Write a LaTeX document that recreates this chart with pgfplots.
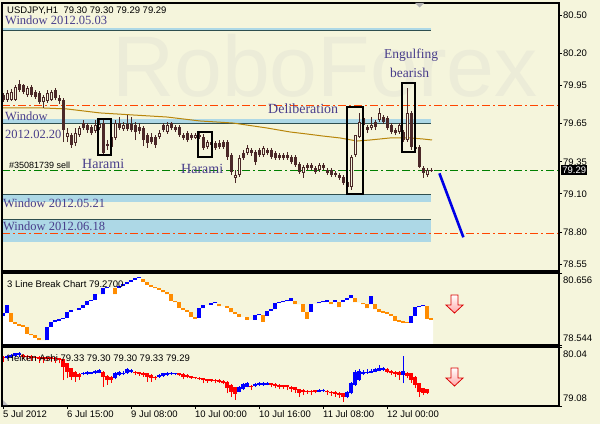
\documentclass[border=0pt]{standalone}
\usepackage{pgfplots}
\pgfplotsset{compat=1.18}
\usepackage{pgfplotstable}
\usepackage{fontspec}
\setmainfont{Liberation Sans}
\newfontfamily\serif{Liberation Serif}
\definecolor{bg}{RGB}{245,245,220}
\definecolor{candle}{RGB}{75,40,40}
\definecolor{band}{RGB}{173,216,230}
\definecolor{bandline}{RGB}{47,79,79}
\definecolor{lvlgreen}{RGB}{0,128,0}
\definecolor{ma}{RGB}{184,134,11}
\definecolor{lbl}{RGB}{72,61,139}
\definecolor{lbo}{RGB}{255,140,0}
\definecolor{lbb}{RGB}{0,0,255}
\definecolor{hared}{RGB}{255,0,0}
\definecolor{wm}{RGB}{236,236,216}

\pgfplotstableread{
x o h l c
0 79.874 79.889 79.819 79.834
1 79.834 79.913 79.819 79.889
2 79.834 79.921 79.827 79.897
3 79.834 79.952 79.827 79.936
4 79.960 79.991 79.897 79.913
5 79.952 79.960 79.881 79.897
6 79.874 79.944 79.858 79.928
7 79.936 79.952 79.858 79.874
8 79.897 79.913 79.842 79.858
9 79.889 79.905 79.803 79.819
10 79.819 79.874 79.772 79.858
11 79.827 79.913 79.811 79.889
12 79.834 79.913 79.827 79.897
13 79.913 79.928 79.834 79.850
14 79.850 79.874 79.803 79.827
15 79.834 79.850 79.505 79.599
16 79.545 79.615 79.505 79.576
17 79.560 79.576 79.459 79.482
18 79.498 79.615 79.474 79.576
19 79.560 79.631 79.545 79.615
20 79.654 79.678 79.599 79.615
21 79.639 79.654 79.576 79.599
22 79.623 79.639 79.560 79.576
23 79.592 79.678 79.576 79.639
24 79.615 79.693 79.599 79.646
25 79.654 79.678 79.404 79.419
26 79.474 79.521 79.443 79.490
27 79.466 79.545 79.459 79.545
28 79.537 79.678 79.521 79.654
29 79.654 79.701 79.599 79.615
30 79.607 79.662 79.592 79.639
31 79.646 79.717 79.592 79.607
32 79.646 79.701 79.584 79.599
33 79.639 79.662 79.521 79.584
34 79.623 79.654 79.568 79.592
35 79.615 79.631 79.474 79.521
36 79.560 79.576 79.459 79.498
37 79.545 79.576 79.490 79.505
38 79.545 79.560 79.459 79.482
39 79.545 79.599 79.529 79.576
40 79.639 79.654 79.584 79.599
41 79.584 79.662 79.568 79.639
42 79.654 79.662 79.599 79.615
43 79.623 79.639 79.584 79.599
44 79.623 79.639 79.545 79.560
45 79.560 79.576 79.521 79.537
46 79.576 79.592 79.505 79.521
47 79.560 79.576 79.521 79.537
48 79.537 79.576 79.529 79.560
49 79.560 79.584 79.529 79.545
50 79.545 79.568 79.443 79.459
51 79.466 79.521 79.451 79.505
52 79.505 79.521 79.474 79.482
53 79.498 79.513 79.443 79.459
54 79.498 79.521 79.451 79.466
55 79.505 79.521 79.451 79.466
56 79.505 79.521 79.365 79.388
57 79.404 79.419 79.247 79.271
58 79.224 79.286 79.184 79.247
59 79.247 79.404 79.231 79.380
60 79.419 79.443 79.365 79.380
61 79.419 79.482 79.404 79.459
62 79.443 79.459 79.396 79.419
63 79.427 79.443 79.325 79.349
64 79.443 79.459 79.388 79.404
65 79.404 79.474 79.388 79.459
66 79.443 79.459 79.404 79.419
67 79.443 79.459 79.372 79.388
68 79.419 79.435 79.365 79.380
69 79.404 79.419 79.365 79.380
70 79.404 79.419 79.365 79.380
71 79.404 79.427 79.365 79.380
72 79.388 79.404 79.333 79.349
73 79.388 79.404 79.310 79.325
74 79.333 79.349 79.255 79.271
75 79.263 79.325 79.224 79.310
76 79.325 79.341 79.286 79.302
77 79.325 79.341 79.286 79.302
78 79.302 79.318 79.255 79.271
79 79.286 79.341 79.271 79.325
80 79.325 79.341 79.286 79.302
81 79.286 79.302 79.247 79.263
82 79.286 79.302 79.231 79.247
83 79.263 79.278 79.231 79.247
84 79.247 79.263 79.208 79.224
85 79.231 79.247 79.169 79.184
86 79.192 79.208 79.130 79.153
87 79.153 79.404 79.130 79.388
88 79.404 79.560 79.388 79.560
89 79.545 79.733 79.537 79.662
90 79.693 79.717 79.623 79.639
91 79.623 79.639 79.576 79.599
92 79.615 79.701 79.599 79.639
93 79.662 79.678 79.599 79.623
94 79.678 79.772 79.662 79.733
95 79.701 79.717 79.646 79.662
96 79.693 79.709 79.599 79.615
97 79.639 79.654 79.568 79.584
98 79.599 79.615 79.560 79.576
99 79.584 79.654 79.568 79.639
100 79.584 79.599 79.505 79.521
101 79.521 79.928 79.505 79.733
102 79.733 79.748 79.443 79.466
103 79.466 79.482 79.435 79.451
104 79.466 79.482 79.302 79.310
105 79.302 79.318 79.224 79.263
106 79.247 79.302 79.231 79.286
107 79.286 79.302 79.271 79.278
}\candles

\pgfplotstableread{
x lo hi k
0 79.390 79.469 1
1 79.469 79.715 1
2 79.223 79.469 0
3 79.174 79.223 0
4 79.105 79.174 0
5 79.075 79.105 0
6 78.878 79.075 0
7 78.829 78.878 0
8 78.750 78.829 0
9 78.681 78.750 0
10 78.681 78.681 -1
11 78.681 79.075 1
12 79.075 79.223 1
13 79.223 79.243 1
14 79.243 79.302 1
15 79.302 79.341 1
16 79.341 79.518 1
17 79.518 79.568 1
18 79.568 79.568 -1
19 79.568 79.637 1
20 79.637 79.715 1
21 79.715 79.833 1
22 79.833 79.863 1
23 79.863 80.030 1
24 80.030 80.030 -1
25 80.030 80.208 1
26 80.208 80.227 1
27 80.227 80.227 -1
28 80.030 80.227 0
29 80.227 80.286 1
30 80.286 80.326 1
31 80.326 80.405 1
32 80.405 80.454 1
33 80.454 80.503 1
34 80.503 80.533 1
35 80.405 80.483 0
36 80.306 80.405 0
37 80.257 80.306 0
38 80.208 80.257 0
39 80.158 80.208 0
40 80.089 80.158 0
41 80.030 80.089 0
42 79.833 80.030 0
43 79.794 79.833 0
44 79.637 79.794 0
45 79.568 79.637 0
46 79.518 79.568 0
47 79.371 79.518 0
48 79.321 79.371 0
49 79.341 79.617 1
50 79.617 79.715 1
51 79.715 79.715 -1
52 79.715 79.765 1
53 79.765 79.794 1
54 79.676 79.755 0
55 79.676 79.676 -1
56 79.637 79.676 0
57 79.499 79.637 0
58 79.449 79.499 0
59 79.371 79.459 0
60 79.371 79.371 -1
61 79.292 79.371 0
62 79.292 79.292 -1
63 79.292 79.420 1
64 79.410 79.440 1
65 79.223 79.410 0
66 79.400 79.548 1
67 79.548 79.597 1
68 79.587 79.765 1
69 79.765 79.794 1
70 79.794 79.824 1
71 79.824 79.843 1
72 79.843 79.912 1
73 79.735 79.843 0
74 79.735 79.735 -1
75 79.518 79.735 0
76 79.321 79.518 0
77 79.518 79.755 1
78 79.755 79.755 -1
79 79.765 79.794 1
80 79.794 79.814 1
81 79.814 79.843 1
82 79.735 79.814 0
83 79.814 79.843 1
84 79.646 79.814 0
85 79.814 79.863 1
86 79.863 79.912 1
87 79.912 80.021 1
88 79.794 79.912 0
89 79.794 79.794 -1
90 79.735 79.784 0
91 79.617 79.735 0
92 79.735 79.991 1
93 79.587 79.735 0
94 79.518 79.587 0
95 79.489 79.518 0
96 79.459 79.489 0
97 79.390 79.459 0
98 79.253 79.390 0
99 79.223 79.253 0
100 79.203 79.223 0
101 79.184 79.203 0
102 79.193 79.400 1
103 79.400 79.646 1
104 79.646 79.686 1
105 79.676 79.725 1
106 79.321 79.676 0
107 79.292 79.321 0
}\lbreak

\pgfplotstableread{
x bt bb h l k
0 79.883 79.856 79.894 79.801 0
1 79.894 79.856 79.910 79.839 1
2 79.910 79.883 79.926 79.861 1
3 79.937 79.894 79.948 79.872 1
4 79.948 79.910 79.964 79.883 1
5 79.910 79.883 79.926 79.839 0
6 79.894 79.872 79.904 79.828 0
7 79.894 79.866 79.904 79.818 0
8 79.883 79.856 79.894 79.812 0
9 79.883 79.850 79.894 79.785 0
10 79.872 79.839 79.883 79.774 0
11 79.872 79.850 79.883 79.818 0
12 79.872 79.850 79.883 79.801 0
13 79.866 79.839 79.877 79.785 0
14 79.856 79.828 79.866 79.774 0
15 79.839 79.720 79.850 79.503 0
16 79.774 79.639 79.785 79.530 0
17 79.693 79.557 79.704 79.503 0
18 79.639 79.546 79.649 79.476 0
19 79.601 79.557 79.612 79.503 0
20 79.622 79.595 79.639 79.584 1
21 79.628 79.601 79.644 79.590 1
22 79.622 79.606 79.639 79.595 1
23 79.644 79.612 79.666 79.601 1
24 79.666 79.622 79.682 79.612 1
25 79.639 79.557 79.649 79.395 0
26 79.568 79.503 79.579 79.422 0
27 79.557 79.503 79.568 79.460 0
28 79.622 79.530 79.639 79.514 1
29 79.639 79.584 79.655 79.574 1
30 79.622 79.595 79.644 79.584 1
31 79.677 79.612 79.704 79.601 1
32 79.666 79.628 79.682 79.617 1
33 79.639 79.612 79.649 79.584 0
34 79.628 79.601 79.639 79.574 0
35 79.622 79.584 79.633 79.557 0
36 79.612 79.557 79.622 79.476 0
37 79.584 79.530 79.595 79.476 0
38 79.557 79.530 79.568 79.503 0
39 79.584 79.546 79.601 79.536 1
40 79.612 79.568 79.622 79.557 1
41 79.622 79.584 79.639 79.574 1
42 79.622 79.595 79.639 79.584 1
43 79.612 79.595 79.622 79.584 1
44 79.612 79.584 79.622 79.568 0
45 79.601 79.557 79.612 79.514 0
46 79.584 79.546 79.595 79.530 0
47 79.557 79.541 79.568 79.525 0
48 79.546 79.530 79.557 79.514 0
49 79.541 79.519 79.552 79.503 0
50 79.530 79.503 79.541 79.449 0
51 79.514 79.487 79.525 79.460 0
52 79.514 79.492 79.525 79.476 0
53 79.503 79.487 79.514 79.449 0
54 79.503 79.476 79.514 79.460 0
55 79.492 79.449 79.503 79.432 0
56 79.476 79.367 79.487 79.286 0
57 79.422 79.313 79.432 79.232 0
58 79.384 79.275 79.395 79.178 0
59 79.395 79.313 79.405 79.302 1
60 79.432 79.351 79.449 79.340 1
61 79.449 79.395 79.465 79.384 1
62 79.405 79.384 79.416 79.340 0
63 79.438 79.405 79.460 79.395 1
64 79.449 79.416 79.465 79.405 1
65 79.449 79.422 79.465 79.411 1
66 79.449 79.427 79.476 79.416 1
67 79.449 79.422 79.460 79.384 0
68 79.438 79.405 79.449 79.367 0
69 79.422 79.395 79.432 79.351 0
70 79.416 79.395 79.427 79.357 0
71 79.416 79.389 79.427 79.340 0
72 79.395 79.362 79.405 79.313 0
73 79.384 79.340 79.395 79.297 0
74 79.351 79.297 79.362 79.232 0
75 79.340 79.308 79.351 79.259 0
76 79.329 79.308 79.340 79.275 0
77 79.329 79.302 79.340 79.259 0
78 79.329 79.313 79.340 79.286 0
79 79.340 79.313 79.357 79.302 1
80 79.340 79.319 79.357 79.308 1
81 79.324 79.302 79.335 79.259 0
82 79.313 79.286 79.324 79.243 0
83 79.308 79.275 79.319 79.232 0
84 79.297 79.259 79.308 79.216 0
85 79.286 79.232 79.297 79.151 0
86 79.313 79.232 79.329 79.205 1
87 79.449 79.286 79.465 79.270 1
88 79.639 79.422 79.666 79.405 1
89 79.655 79.503 79.682 79.487 1
90 79.639 79.601 79.666 79.584 1
91 79.639 79.612 79.677 79.601 1
92 79.655 79.622 79.677 79.612 1
93 79.677 79.639 79.704 79.628 1
94 79.693 79.655 79.747 79.644 1
95 79.693 79.666 79.720 79.655 1
96 79.677 79.639 79.693 79.612 0
97 79.655 79.612 79.666 79.584 0
98 79.639 79.595 79.649 79.557 0
99 79.639 79.584 79.649 79.503 0
100 79.655 79.584 79.894 79.449 1
101 79.622 79.568 79.633 79.530 0
102 79.612 79.503 79.622 79.460 0
103 79.557 79.422 79.568 79.367 0
104 79.449 79.313 79.460 79.232 0
105 79.367 79.297 79.378 79.259 0
106 79.351 79.297 79.362 79.275 0
}\heiken

\pgfplotsset{
  panel/.style={
    scale only axis, width=557pt,
    xmin=-0.25, xmax=139,
    axis on top,
    axis line style={black, line width=1.3pt},
    xtick=\empty,
    ytick pos=right, yticklabel pos=right,
    tick align=outside,
    major tick length=3pt,
    tick style={black, line width=0.8pt},
    yticklabel style={font=\fontsize{9.5}{11}\selectfont, inner sep=0pt, xshift=1pt},
    clip mode=individual,
  },
}

\begin{document}
\begin{tikzpicture}
\useasboundingbox (0pt,0pt) rectangle (600pt,424pt);
\fill[bg] (0pt,0pt) rectangle (600pt,424pt);
\node[anchor=base west, inner sep=0pt, text=wm, font=\fontsize{86}{86}\selectfont] at (112pt,327pt) {RoboForex};

% ---------------- main panel ----------------
\begin{axis}[panel, at={(2pt,153pt)}, anchor=south west, height=268pt,
  ymin=78.495, ymax=80.594,
  ytick={80.50,80.20,79.95,79.65,79.35,79.10,78.80,78.55},
  yticklabels={80.50,80.20,79.95,79.65,79.35,79.10,78.80,78.55}]
\addplot[fill=band, draw=none] coordinates {(-0.25,80.383) (107,80.383) (107,80.397) (-0.25,80.397)} -- cycle;
\addplot[fill=band, draw=none] coordinates {(-0.25,79.655) (107,79.655) (107,79.685) (-0.25,79.685)} -- cycle;
\addplot[fill=band, draw=none] coordinates {(-0.25,79.038) (107,79.038) (107,79.096) (-0.25,79.096)} -- cycle;
\addplot[fill=band, draw=none] coordinates {(-0.25,78.725) (107,78.725) (107,78.895) (-0.25,78.895)} -- cycle;
\addplot[color=lvlgreen, line width=1pt, dash pattern=on 8pt off 3pt on 2pt off 3pt] coordinates {(-0.25,79.286) (139,79.286)};
\addplot[color={rgb,255:red,255;green,69;blue,0}, line width=1.3pt, dash pattern=on 8pt off 3pt on 2pt off 3pt] coordinates {(-0.25,79.79) (139,79.79)};
\addplot[color={rgb,255:red,255;green,69;blue,0}, line width=1.3pt, dash pattern=on 8pt off 3pt on 2pt off 3pt] coordinates {(-0.25,78.79) (139,78.79)};
\addplot[color=bandline, line width=1pt] coordinates {(-0.25,80.381) (107,80.381)};
\addplot[color=bandline, line width=1pt] coordinates {(-0.25,79.654) (107,79.654)};
\addplot[color=bandline, line width=1pt] coordinates {(-0.25,79.096) (107,79.096)};
\addplot[color=bandline, line width=1pt] coordinates {(-0.25,78.895) (107,78.895)};
\addplot[color=ma, line width=1pt] coordinates {(0,79.772) (10,79.772) (16,79.764) (24.25,79.733) (32.5,79.717) (41,79.701) (49.25,79.670) (57.5,79.654) (66,79.615) (71.75,79.584) (76,79.568) (80,79.552) (84.25,79.537) (88.5,79.513) (91.75,79.521) (96.75,79.537) (101.75,79.537) (105,79.529) (107.25,79.521)};
% candles: wicks, bodies, hollow insides of rising candles
\addplot[color=candle, line width=1pt, quiver={u=0, v={\thisrow{h}-\thisrow{l}}}] table[x=x, y=l] {\candles};
\addplot[color=candle, line width=3pt, quiver={u=0, v={max(abs(\thisrow{c}-\thisrow{o}),0.006)}}] table[x=x, y expr={min(\thisrow{o},\thisrow{c})}] {\candles};
\addplot[color=bg, line width=1pt, restrict expr to domain={\thisrow{c}-\thisrow{o}}{0.02:10}, quiver={u=0, v={\thisrow{c}-\thisrow{o}-0.014}}] table[x=x, y expr={\thisrow{o}+0.007}] {\candles};
\draw[black, line width=1.8pt] (axis cs:23.8,79.683) rectangle (axis cs:27,79.404);
\draw[black, line width=1.8pt] (axis cs:48.8,79.581) rectangle (axis cs:52.2,79.386);
\draw[black, line width=1.8pt] (axis cs:85.9,79.782) rectangle (axis cs:89.9,79.098);
\draw[black, line width=1.8pt] (axis cs:99.8,79.965) rectangle (axis cs:103,79.425);
\addplot[color=lbb!90!black, line width=2.6pt] coordinates {(109.1,79.260) (115.1,78.759)};
\end{axis}

% ---------------- 3 line break ----------------
\begin{axis}[panel, at={(2pt,79pt)}, anchor=south west, height=72pt,
  ymin=78.544, ymax=80.656, ytick={80.656,78.544}, yticklabels={}]
\addplot[ybar, bar width=1, fill=white, draw=none] table[x=x, y=lo] {\lbreak};
\addplot[color=lbb, line width=3.6pt, restrict expr to domain={\thisrow{k}}{0.5:1.5}, quiver={u=0, v={max(\thisrow{hi}-\thisrow{lo},0.045)}}] table[x=x, y=lo] {\lbreak};
\addplot[color=lbo, line width=3.6pt, restrict expr to domain={\thisrow{k}}{-0.5:0.5}, quiver={u=0, v={max(\thisrow{hi}-\thisrow{lo},0.045)}}] table[x=x, y=lo] {\lbreak};
\node[anchor=north west, inner sep=0pt, font=\fontsize{9.5}{11}\selectfont] at ([xshift=4pt,yshift=-4pt]rel axis cs:1,1) {80.656};
\node[anchor=south west, inner sep=0pt, font=\fontsize{9.5}{11}\selectfont] at ([xshift=4pt,yshift=3pt]rel axis cs:1,0) {78.544};
\end{axis}

% ---------------- Heiken Ashi ----------------
\begin{axis}[panel, at={(2pt,18pt)}, anchor=south west, height=59pt,
  ymin=79.08, ymax=80.04, ytick={80.04,79.08}, yticklabels={},
  xtick={0,16,32,48,64,80,96},
  xticklabels={5 Jul 2012,6 Jul 15:00,9 Jul 08:00,10 Jul 00:00,10 Jul 16:00,11 Jul 08:00,12 Jul 00:00},
  xtick pos=bottom,
  xticklabel style={anchor=north west, inner sep=0pt, font=\fontsize{9.5}{11}\selectfont, yshift=-1pt}]
\addplot[color=lbb, line width=1pt, restrict expr to domain={\thisrow{k}}{0.5:1.5}, quiver={u=0, v={\thisrow{h}-\thisrow{l}}}] table[x=x, y=l] {\heiken};
\addplot[color=hared, line width=1pt, restrict expr to domain={\thisrow{k}}{-0.5:0.5}, quiver={u=0, v={\thisrow{h}-\thisrow{l}}}] table[x=x, y=l] {\heiken};
\addplot[color=lbb, line width=3.2pt, restrict expr to domain={\thisrow{k}}{0.5:1.5}, quiver={u=0, v={max(\thisrow{bt}-\thisrow{bb},0.02)}}] table[x=x, y=bb] {\heiken};
\addplot[color=hared, line width=3.2pt, restrict expr to domain={\thisrow{k}}{-0.5:0.5}, quiver={u=0, v={max(\thisrow{bt}-\thisrow{bb},0.02)}}] table[x=x, y=bb] {\heiken};
\node[anchor=north west, inner sep=0pt, font=\fontsize{9.5}{11}\selectfont] at ([xshift=4pt,yshift=-4pt]rel axis cs:1,1) {80.04};
\node[anchor=south west, inner sep=0pt, font=\fontsize{9.5}{11}\selectfont] at ([xshift=4pt,yshift=4pt]rel axis cs:1,0) {79.08};
\end{axis}

% ---------------- annotations ----------------
\begin{scope}[x=1pt, y=1pt, every node/.style={inner sep=0pt, anchor=base west}]
\node[font=\fontsize{9.5}{11}\selectfont] at (7,410) {USDJPY,H1\ \ 79.30 79.30 79.29 79.29};
\node[text=lbl, font=\serif\fontsize{12.5}{13}\selectfont] at (5,399) {Window 2012.05.03};
\node[text=lbl, font=\serif\fontsize{12.5}{13}\selectfont] at (5,303) {Window};
\node[text=lbl, font=\serif\fontsize{12.5}{13}\selectfont] at (5,286) {2012.02.20};
\node[font=\fontsize{9}{10}\selectfont] at (9,256) {\#35081739 sell};
\node[text=lbl, font=\serif\fontsize{14}{15}\selectfont] at (82,256) {Harami};
\node[text=lbl, font=\serif\fontsize{14}{15}\selectfont] at (181,251) {Harami};
\node[text=lbl, font=\serif\fontsize{14}{15}\selectfont] at (268,310) {Deliberation};
\node[text=lbl, font=\serif\fontsize{13.5}{15}\selectfont] at (384,365) {Engulfing};
\node[text=lbl, font=\serif\fontsize{13.5}{15}\selectfont] at (390,346) {bearish};
\node[text=lbl, font=\serif\fontsize{12.5}{13}\selectfont] at (3,217) {Window 2012.05.21};
\node[text=lbl, font=\serif\fontsize{12.5}{13}\selectfont] at (3,194) {Window 2012.06.18};
\node[font=\fontsize{9.5}{11}\selectfont] at (7,137) {3 Line Break Chart 79.2700};
\node[font=\fontsize{9.5}{11}\selectfont] at (7,63) {Heiken Ashi 79.33 79.30 79.30 79.33 79.29};
\node[fill=black, text=white, anchor=west, inner sep=1.2pt, font=\fontsize{9.5}{11}\selectfont] at (561,254) {79.29};
\draw[red!85!black, line width=0.8pt, top color=white, bottom color=red!35]
  (451,129) -- (458,129) -- (458,119) -- (463,119) -- (454.5,111) -- (446,119) -- (451,119) -- cycle;
\draw[red!85!black, line width=0.8pt, top color=white, bottom color=red!35]
  (451,56) -- (458,56) -- (458,46) -- (463,46) -- (454.5,38) -- (446,46) -- (451,46) -- cycle;
\fill[gray!60] (415,421) -- (424,421) -- (419.5,416.5) -- cycle;
\fill[gray!50] (3,19) -- (8,19) -- (3,24) -- cycle;
\end{scope}
\end{tikzpicture}
\end{document}
